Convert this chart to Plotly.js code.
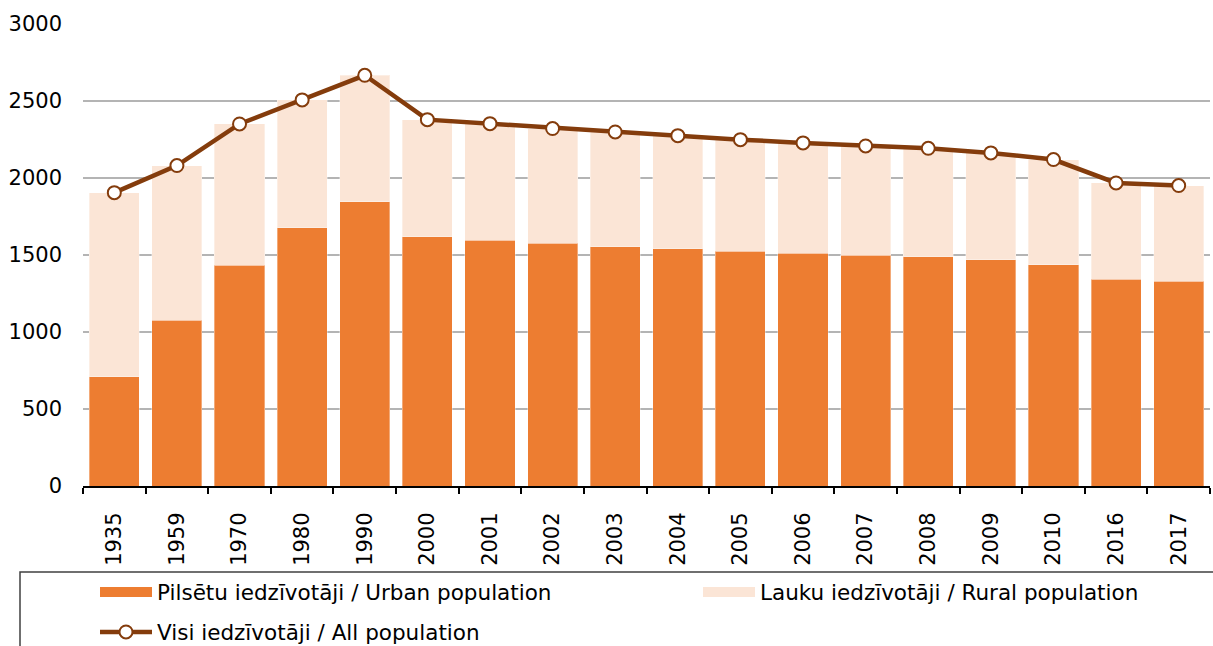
<!DOCTYPE html>
<html>
<head>
<meta charset="utf-8">
<script src="https://cdn.plot.ly/plotly-3.0.1.min.js"></script>
<style>html,body{margin:0;padding:0;background:#fff;}#chart{width:1213px;height:646px;}</style>
</head>
<body>
<div id="chart"></div>
<script>
const years = ["1935","1959","1970","1980","1990","2000","2001","2002","2003","2004","2005","2006","2007","2008","2009","2010","2016","2017"];
const urban = [710,1075,1434,1678,1847,1620,1596,1577,1555,1542,1523,1510,1499,1490,1469,1438,1341,1330];
const total = [1905,2081,2351,2507,2667,2379,2353,2321,2299,2275,2249,2228,2208,2193,2163,2120,1968,1951];
const rural = total.map((t,i)=>t-urban[i]);
const names = ["Pilsētu iedzīvotāji / Urban population","Lauku iedzīvotāji / Rural population","Visi iedzīvotāji / All population"];
const colors = {urban:'#ED7D31', rural:'#FBE5D6', total:'#843C0C'};

const FONT = "DejaVu Sans, Verdana, sans-serif";
const traces = [
  {type:'bar', x:years, y:urban, name:names[0], showlegend:false, marker:{color:colors.urban, line:{color:'rgba(255,255,255,0.35)', width:1}}},
  {type:'bar', x:years, y:rural, name:names[1], showlegend:false, marker:{color:colors.rural, line:{color:'rgba(255,255,255,0.35)', width:1}}},
  {type:'scatter', mode:'lines+markers', x:years, y:total, name:names[2], legend:'legend3',
   line:{color:colors.total, width:4.5}, marker:{size:13, color:'#ffffff', line:{color:colors.total, width:2}}},
  // legend-only swatches for the bar series
  {type:'scatter', mode:'lines', x:[years[0]], y:[null], name:names[0], legend:'legend', line:{color:colors.urban, width:11}, hoverinfo:'skip'},
  {type:'scatter', mode:'lines', x:[years[0]], y:[null], name:names[1], legend:'legend2', line:{color:colors.rural, width:11}, hoverinfo:'skip'}
];
const W=1213,H=646,L=83,R=3,T=24,B=160;
const pw=W-L-R, ph=H-T-B;
const px=(p)=>(p-L)/pw, py=(p)=>(H-B-p)/ph;
const legFont = {family:FONT,size:21.5,color:'#000'};
const legBase = {orientation:'v', xref:'paper', yref:'paper', xanchor:'left', yanchor:'middle',
  font:legFont, bgcolor:'rgba(0,0,0,0)', borderwidth:0, itemwidth:52};
const layout = {
  width:W, height:H,
  margin:{l:L,r:R,t:T,b:B,pad:0,autoexpand:false},
  paper_bgcolor:'#fff', plot_bgcolor:'#fff',
  font:{family:FONT, size:21, color:'#000'},
  barmode:'stack', bargap:0.2,
  xaxis:{type:'category', range:[-0.5,17.5], autorange:false, automargin:false, showline:true, linecolor:'#000', linewidth:2, ticks:'outside', tickson:'boundaries',
    ticklen:6, tickwidth:2, tickcolor:'#000', tickangle:-90, tickfont:{family:FONT,size:21,color:'#000'},
    ticklabelstandoff:16, showgrid:false, zeroline:false, fixedrange:true},
  yaxis:{range:[0,3000], autorange:false, automargin:false, dtick:500, tick0:0, showgrid:true, gridcolor:'#B4B4B4', gridwidth:1.5,
    zeroline:false, showline:false, ticks:'', tickfont:{family:FONT,size:21,color:'#000'},
    ticklabelstandoff:20, fixedrange:true},
  showlegend:true,
  legend:Object.assign({}, legBase, {x:px(95), y:py(592)}),
  legend2:Object.assign({}, legBase, {x:px(698), y:py(592)}),
  legend3:Object.assign({}, legBase, {x:px(95), y:py(632)}),
  shapes:[{type:'rect', xref:'paper', yref:'paper', x0:px(20), x1:px(1225), y0:py(572), y1:py(660),
    line:{color:'#404040', width:1.5}, fillcolor:'rgba(0,0,0,0)', layer:'below'}]
};
Plotly.newPlot('chart', traces, layout, {displayModeBar:false, staticPlot:true});
</script>
</body>
</html>
